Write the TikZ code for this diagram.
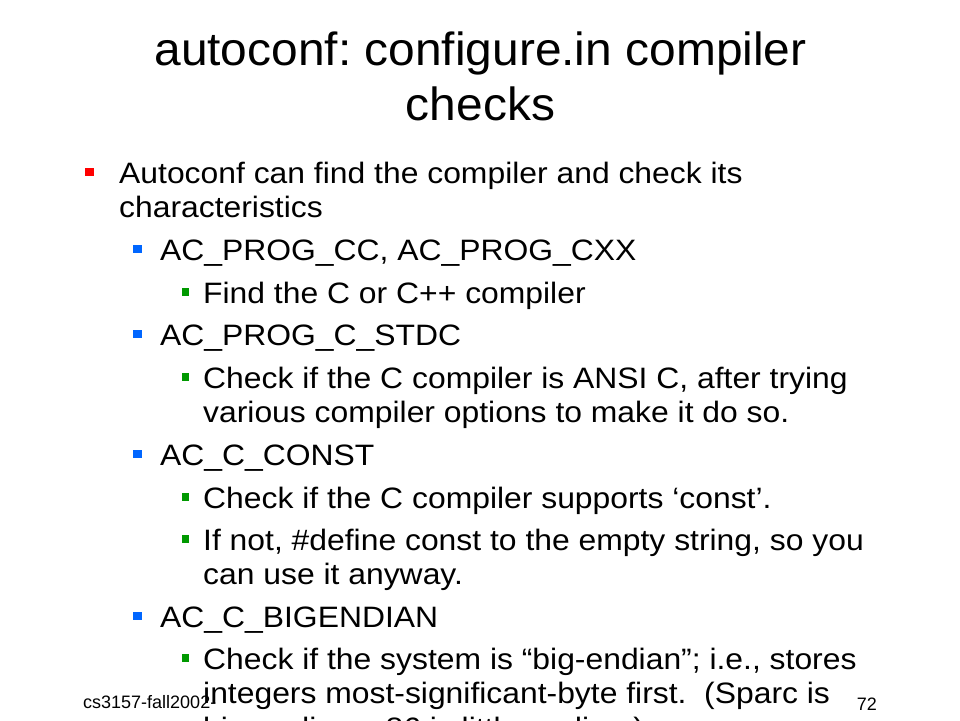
\documentclass[tikz,border=0pt]{standalone}
\usepackage{fontspec}
\setmainfont{Liberation Sans}[FakeStretch=1.08]
\newfontfamily\titlefont{Liberation Sans}[FakeStretch=1.03]
\newfontfamily\footfont{Liberation Sans}
\usetikzlibrary{positioning}
\definecolor{bulred}{RGB}{255,0,0}
\definecolor{bulblue}{RGB}{0,102,255}
\definecolor{bulgreen}{RGB}{0,153,0}
\frenchspacing
\tikzset{
  item/.style={anchor=base west, inner sep=0pt, font=\fontsize{29.5}{34.5}\selectfont},
  heading/.style={anchor=base, inner sep=0pt, font=\titlefont\fontsize{46.5}{55}\selectfont},
  bigsq/.style={shape=rectangle, minimum size=8.5pt, inner sep=0pt},
  smallsq/.style={shape=rectangle, minimum size=7.5pt, inner sep=0pt},
}

\begin{document}
\begin{tikzpicture}[x=1pt,y=-1pt]
\useasboundingbox[fill=white] (0,0) rectangle (960,720);

% Title
\node [heading] at (480.5,65) (title) {autoconf: configure.in compiler};
\node [heading] at (480.5,120) (title2) {checks};

% First level
\node [item] at (119,183) (autoconf) {\vtop{\hbox{Autoconf can find the compiler and check its}\hbox{characteristics}}};
\node [bigsq, fill=bulred] at (89.5,172) (b_autoconf) {};

% Second level
\node [item] at (160,260) (progcc) {AC\_PROG\_CC, AC\_PROG\_CXX};
\node [bigsq, fill=bulblue] at (137.5,249) (b_progcc) {};
\node [item] at (160,345) (stdc) {AC\_PROG\_C\_STDC};
\node [bigsq, fill=bulblue] at (137.5,334) (b_stdc) {};
\node [item] at (160,465) (const) {AC\_C\_CONST};
\node [bigsq, fill=bulblue] at (137.5,454) (b_const) {};
\node [item] at (160,627) (bigend) {AC\_C\_BIGENDIAN};
\node [bigsq, fill=bulblue] at (137.5,616) (b_bigend) {};

% Third level
\node [item] at (203,303) (findcc) {Find the C or C++ compiler};
\node [smallsq, fill=bulgreen] at (185.5,292) (b_findcc) {};
\node [item] at (203,388) (ansi) {\vtop{\hbox{Check if the C compiler is ANSI C, after trying}\hbox{various compiler options to make it do so.}}};
\node [smallsq, fill=bulgreen] at (185.5,377) (b_ansi) {};
\node [item] at (203,508) (supp) {Check if the C compiler supports ‘const’.};
\node [smallsq, fill=bulgreen] at (185.5,497) (b_supp) {};
\node [item] at (203,550) (ifnot) {\vtop{\hbox{If not, \#define const to the empty string, so you}\hbox{can use it anyway.}}};
\node [smallsq, fill=bulgreen] at (185.5,539) (b_ifnot) {};
\node [item] at (203,669) (system) {\vtop{\hbox{Check if the system is “big-endian”; i.e., stores}\hbox{integers most-significant-byte first.~ (Sparc is}\hbox{big-endian, x86 is little-endian.)}}};
\node [smallsq, fill=bulgreen] at (185.5,658) (b_system) {};

% Footer
\node [anchor=base west, inner sep=0pt, font=\footfont\fontsize{18}{20}\selectfont] at (83,708) (course) {cs3157-fall2002-};
\node [anchor=base east, inner sep=0pt, font=\footfont\fontsize{18}{20}\selectfont] at (877,710) (page) {72};

\end{tikzpicture}
\end{document}
